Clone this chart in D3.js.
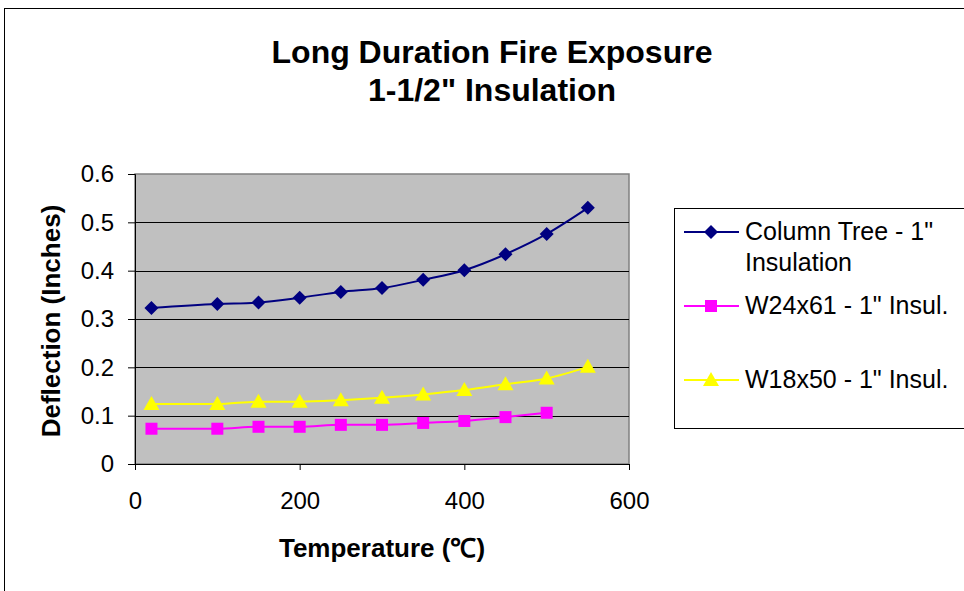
<!DOCTYPE html>
<html><head><meta charset="utf-8">
<script src="https://cdn.jsdelivr.net/npm/d3@7"></script>
<style>html,body{margin:0;padding:0;background:#fff;}svg{display:block;}</style>
</head><body>
<svg id="c" width="964" height="591"></svg>
<script>
const temps = [20, 100, 150, 200, 250, 300, 350, 400, 450, 500, 550];
const columnTree = [0.323, 0.331, 0.334, 0.344, 0.356, 0.364, 0.381, 0.401, 0.434, 0.476, 0.530];
const w24x61 = [0.073, 0.073, 0.077, 0.077, 0.081, 0.081, 0.085, 0.089, 0.097, 0.106];
const w18x50 = [0.124, 0.124, 0.129, 0.129, 0.132, 0.137, 0.144, 0.153, 0.165, 0.177, 0.201];
const seriesNames = ["Column Tree - 1\" Insulation", "W24x61 - 1\" Insul.", "W18x50 - 1\" Insul."];
const xTicks = [0, 200, 400, 600];
const yTicks = [0, 0.1, 0.2, 0.3, 0.4, 0.5, 0.6];
const titleLines = ["Long Duration Fire Exposure", "1-1/2\" Insulation"];
const xTitle = "Temperature (\u2103)";
const yTitle = "Deflection (Inches)";

const svg = d3.select("#c");
const font = "Liberation Sans, Arial, sans-serif";

// outer chart border
svg.append("rect").attr("x", 4.5).attr("y", 8.5).attr("width", 970).attr("height", 600)
  .attr("fill", "#fff").attr("stroke", "#000").attr("stroke-width", 1);

const L = 135, R = 629, T = 174, B = 464;
const x = d3.scaleLinear().domain([0, 600]).range([L, R]);
const y = d3.scaleLinear().domain([0, 0.6]).range([B, T]);

svg.append("rect").attr("x", L).attr("y", T).attr("width", R - L).attr("height", B - T)
  .attr("fill", "#C0C0C0").attr("stroke", "#808080").attr("stroke-width", 1.5);

// gridlines
svg.append("g").selectAll("line").data(yTicks.filter(d => d > 0 && d < 0.6)).join("line")
  .attr("x1", L).attr("x2", R).attr("y1", d => Math.round(y(d)) + 0.5).attr("y2", d => Math.round(y(d)) + 0.5)
  .attr("stroke", "#000").attr("stroke-width", 1);

// axes
const yAxis = d3.axisLeft(y).tickValues(yTicks).tickSize(7).tickPadding(14).tickFormat(d => d === 0 ? "0" : d3.format(".1f")(d));
const gy = svg.append("g").attr("transform", `translate(${L},0)`).call(yAxis);
const xAxis = d3.axisBottom(x).tickValues(xTicks).tickSize(6).tickPadding(22).tickFormat(d3.format("d"));
const gx = svg.append("g").attr("transform", `translate(0,${B})`).call(xAxis);
[gx, gy].forEach(g => {
  g.select(".domain").attr("stroke", "#000").attr("stroke-width", 1);
  g.selectAll(".tick line").attr("stroke", "#000");
  g.selectAll("text").attr("font-family", font).attr("font-size", 24).attr("fill", "#000");
});

// lines
const series = [
  {name: seriesNames[0], vals: columnTree, color: "#000080", sym: "diamond"},
  {name: seriesNames[1], vals: w24x61, color: "#FF00FF", sym: "square"},
  {name: seriesNames[2], vals: w18x50, color: "#FFFF00", sym: "triangle"}
];
function marker(g, type, color) {
  if (type === "diamond") g.append("path").attr("d", "M0,-7L7,0L0,7L-7,0Z").attr("fill", color);
  else if (type === "square") g.append("rect").attr("x", -6).attr("y", -6).attr("width", 12).attr("height", 12).attr("fill", color);
  else g.append("path").attr("d", "M0,-8L8,6L-8,6Z").attr("fill", color);
}
const line = d3.line().x(d => x(d[0])).y(d => y(d[1])).curve(d3.curveMonotoneX);
series.forEach(s => {
  const pts = s.vals.map((v, i) => [temps[i], v]);
  svg.append("path").datum(pts).attr("d", line).attr("fill", "none").attr("stroke", s.color).attr("stroke-width", 2);
  pts.forEach(p => {
    const g = svg.append("g").attr("transform", `translate(${x(p[0])},${y(p[1])})`);
    marker(g, s.sym, s.color);
  });
});

// titles
const tt = svg.append("text").attr("text-anchor", "middle").attr("font-family", font).attr("font-weight", "bold").attr("font-size", 32).attr("fill", "#000");
tt.append("tspan").attr("x", 492).attr("y", 63).text(titleLines[0]);
tt.append("tspan").attr("x", 492).attr("y", 101).text(titleLines[1]);

svg.append("text").attr("x", 382).attr("y", 557).attr("text-anchor", "middle").attr("font-family", font)
  .attr("font-weight", "bold").attr("font-size", 26).text(xTitle);
svg.append("text").attr("transform", "translate(60,321) rotate(-90)").attr("text-anchor", "middle").attr("font-family", font)
  .attr("font-weight", "bold").attr("font-size", 26).text(yTitle);

// legend
svg.append("rect").attr("x", 674.5).attr("y", 208.5).attr("width", 300).attr("height", 220)
  .attr("fill", "#fff").attr("stroke", "#000").attr("stroke-width", 1);
const legRows = [
  {y: 232, lines: ["Column Tree - 1\"", "Insulation"]},
  {y: 306, lines: [seriesNames[1]]},
  {y: 380, lines: [seriesNames[2]]}
];
series.forEach((s, i) => {
  const r = legRows[i];
  svg.append("line").attr("x1", 684).attr("x2", 739).attr("y1", r.y).attr("y2", r.y).attr("stroke", s.color).attr("stroke-width", 2);
  const g = svg.append("g").attr("transform", `translate(711,${r.y})`);
  marker(g, s.sym, s.color);
  r.lines.forEach((t, j) => {
    svg.append("text").attr("x", 745).attr("y", r.y + 8 + j * 31).attr("font-family", font).attr("font-size", 25).attr("fill", "#000").text(t);
  });
});
</script>
</body></html>
